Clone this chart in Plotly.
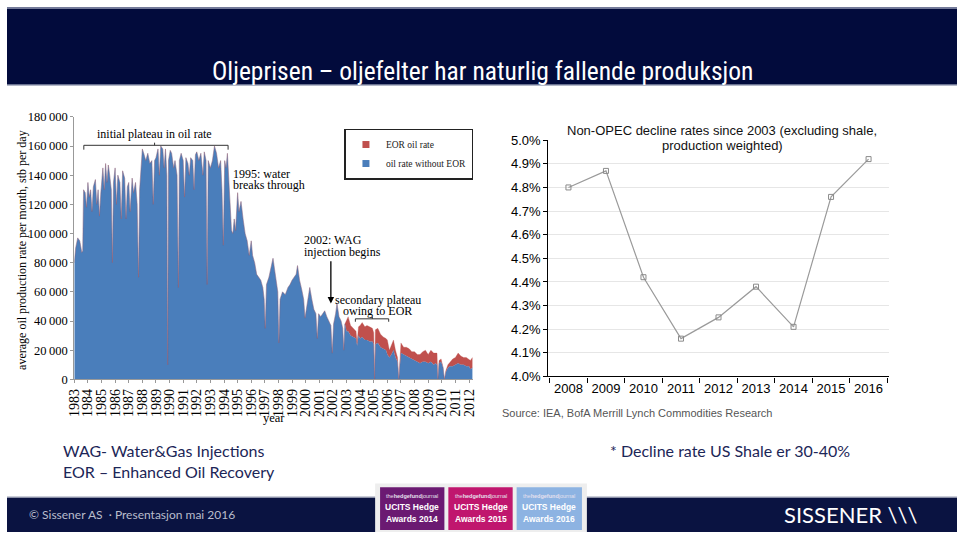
import plotly.graph_objects as go

# ---------------- data: left chart (monthly oil rate, stb/day) ----------------
years = [
    1983.00, 1983.10, 1983.25, 1983.40, 1983.55, 1983.62, 1983.68, 1983.80, 1983.90,
    1984.00, 1984.10, 1984.20, 1984.30, 1984.40, 1984.55, 1984.65, 1984.75, 1984.85, 1984.95,
    1985.10, 1985.20, 1985.30, 1985.40, 1985.50, 1985.60, 1985.72, 1985.80, 1985.88,
    1986.00, 1986.10, 1986.20, 1986.35, 1986.45, 1986.55, 1986.70, 1986.80, 1986.90,
    1987.00, 1987.10, 1987.25, 1987.35, 1987.50, 1987.62, 1987.72, 1987.80,
    1988.00, 1988.10, 1988.25, 1988.40, 1988.55, 1988.70, 1988.80, 1988.90,
    1989.00, 1989.15, 1989.25, 1989.35, 1989.50, 1989.60, 1989.70, 1989.80, 1989.86, 1989.92,
    1990.05, 1990.15, 1990.30, 1990.40, 1990.55, 1990.65, 1990.72, 1990.85,
    1991.00, 1991.10, 1991.20, 1991.35, 1991.45, 1991.55, 1991.70, 1991.80, 1991.90,
    1992.00, 1992.15, 1992.30, 1992.45, 1992.55, 1992.68, 1992.76, 1992.84,
    1993.00, 1993.15, 1993.30, 1993.45, 1993.60, 1993.75, 1993.85, 1993.95,
    1994.05, 1994.15, 1994.25, 1994.35, 1994.45, 1994.55, 1994.65, 1994.75, 1994.85,
    1995.00, 1995.10, 1995.25, 1995.40, 1995.55, 1995.70, 1995.85,
    1996.00, 1996.10, 1996.25, 1996.40, 1996.55, 1996.70, 1996.85, 1996.95,
    1997.03, 1997.12, 1997.30, 1997.50, 1997.60, 1997.72, 1997.85, 1997.95,
    1998.03, 1998.12, 1998.30, 1998.50, 1998.70, 1998.85,
    1999.00, 1999.15, 1999.30, 1999.40, 1999.55, 1999.70, 1999.85, 1999.95,
    2000.10, 2000.30, 2000.45, 2000.60, 2000.75, 2000.85, 2000.95,
    2001.10, 2001.25, 2001.40, 2001.55, 2001.70, 2001.85, 2001.95,
    2002.05, 2002.20, 2002.30, 2002.45, 2002.60, 2002.72, 2002.80, 2002.88,
    2003.00, 2003.12, 2003.30, 2003.50, 2003.70, 2003.78, 2003.88,
    2004.00, 2004.15, 2004.35, 2004.50, 2004.70, 2004.90,
    2005.00, 2005.06, 2005.12, 2005.30, 2005.50, 2005.70, 2005.90,
    2006.00, 2006.15, 2006.30, 2006.45, 2006.60, 2006.75, 2006.84, 2006.92,
    2007.00, 2007.20, 2007.40, 2007.60, 2007.80,
    2008.00, 2008.20, 2008.40, 2008.60, 2008.80,
    2009.00, 2009.20, 2009.40, 2009.55, 2009.65, 2009.71, 2009.80, 2009.95,
    2010.10, 2010.19, 2010.30, 2010.45, 2010.60, 2010.80,
    2011.00, 2011.20, 2011.40, 2011.60, 2011.80,
    2012.00, 2012.10, 2012.25,
]
oil_without_eor = [
    80000, 90000, 97000, 95000, 87000, 88000, 130000, 128000, 118000,
    135000, 125000, 130000, 115000, 132000, 137000, 120000, 130000, 112000, 128000,
    145000, 130000, 148000, 135000, 147000, 140000, 130000, 80000, 135000,
    145000, 120000, 140000, 135000, 110000, 143000, 138000, 110000, 132000,
    135000, 115000, 138000, 128000, 135000, 120000, 70000, 130000,
    158000, 155000, 150000, 155000, 148000, 150000, 120000, 150000,
    152000, 158000, 140000, 160000, 158000, 145000, 158000, 140000, 10000, 150000,
    157000, 155000, 145000, 150000, 140000, 63000, 150000, 155000,
    150000, 125000, 152000, 148000, 140000, 152000, 150000, 130000, 154000,
    156000, 150000, 155000, 140000, 156000, 150000, 65000, 150000,
    145000, 150000, 160000, 155000, 145000, 150000, 130000, 92000,
    150000, 145000, 155000, 140000, 120000, 102000, 100000, 110000, 102000,
    128000, 115000, 122000, 110000, 100000, 95000, 85000,
    95000, 85000, 80000, 72000, 70000, 68000, 63000, 55000,
    35000, 65000, 70000, 78000, 83000, 75000, 65000, 60000,
    25000, 55000, 60000, 58000, 63000, 65000,
    68000, 70000, 72000, 78000, 68000, 62000, 55000, 42000,
    50000, 63000, 55000, 48000, 45000, 28000, 45000,
    43000, 45000, 47000, 43000, 40000, 37000, 18000,
    38000, 45000, 52000, 43000, 40000, 35000, 20000, 38000,
    33000, 33000, 30000, 29000, 28000, 23000, 30000,
    28000, 29000, 27000, 27000, 26000, 26000,
    24000, 0, 24000, 25000, 22000, 21000, 20000,
    17000, 15000, 17000, 20000, 15000, 12000, 0, 13000,
    18000, 17000, 16000, 15000, 14000,
    13000, 12000, 11000, 12000, 12000,
    11000, 12000, 10000, 11000, 10000, 0, 11000, 12000,
    8000, 0, 5000, 8000, 9000, 9000,
    10000, 11000, 10000, 10000, 9000,
    9000, 7000, 8000,
]
eor_years = [
    2003.00, 2003.12, 2003.30, 2003.50, 2003.70, 2003.78, 2003.88,
    2004.00, 2004.15, 2004.35, 2004.50, 2004.70, 2004.90,
    2005.00, 2005.06, 2005.12, 2005.30, 2005.50, 2005.70, 2005.90,
    2006.00, 2006.15, 2006.30, 2006.45, 2006.60, 2006.75, 2006.84, 2006.92,
    2007.00, 2007.20, 2007.40, 2007.60, 2007.80,
    2008.00, 2008.20, 2008.40, 2008.60, 2008.80,
    2009.00, 2009.20, 2009.40, 2009.55, 2009.65, 2009.71, 2009.80, 2009.95,
    2010.10, 2010.19, 2010.30, 2010.45, 2010.60, 2010.80,
    2011.00, 2011.20, 2011.40, 2011.60, 2011.80,
    2012.00, 2012.10, 2012.25,
]
eor_oil = [
    8000, 10000, 7000, 6000, 5000, 2000, 6000,
    9000, 10000, 9000, 10000, 10000, 9000,
    8000, 0, 10000, 10000, 9000, 8000, 8000,
    10000, 5000, 6000, 7000, 5000, 3000, 0, 2000,
    7000, 5000, 6000, 6000, 5000,
    6000, 5000, 6000, 7000, 8000,
    6000, 8000, 8000, 7000, 8000, 0, 2000, 2000,
    0, 0, 1000, 2000, 3000, 5000,
    5000, 7000, 6000, 5000, 6000,
    5000, 6000, 7000,
]
year_ticks = list(range(1983, 2013))
rate_ticks = [0, 20000, 40000, 60000, 80000, 100000, 120000, 140000, 160000, 180000]

# ---------------- data: right chart ----------------
decline_years = ["2008", "2009", "2010", "2011", "2012", "2013", "2014", "2015", "2016"]
decline_rate = [4.80, 4.87, 4.42, 4.16, 4.25, 4.38, 4.21, 4.76, 4.92]
pct_ticks = [4.0, 4.1, 4.2, 4.3, 4.4, 4.5, 4.6, 4.7, 4.8, 4.9, 5.0]

# ---------------- build ----------------
W, H = 960, 540
def px(x):
    return x / W
def py(y):
    return 1 - y / H

BLUE = "#4a7ebb"
RED = "#c0504d"
SERIF = "Liberation Serif, Times New Roman, serif"
SANS = "Liberation Sans, Arial, sans-serif"
CAL = "Lato, Open Sans, sans-serif"

eor_map = dict(zip(eor_years, eor_oil))
eor_full = [eor_map.get(t, 0) for t in years]

fig = go.Figure()
fig.add_trace(go.Scatter(x=years, y=oil_without_eor, stackgroup="oil", mode="lines",
                         line=dict(width=0.3, color=BLUE), fillcolor=BLUE,
                         showlegend=False, xaxis="x", yaxis="y"))
fig.add_trace(go.Scatter(x=years, y=eor_full, stackgroup="oil", mode="lines",
                         line=dict(width=0.3, color=RED), fillcolor=RED,
                         showlegend=False, xaxis="x", yaxis="y"))
# legend entries
fig.add_trace(go.Scatter(x=[None], y=[None], mode="markers", name="EOR oil rate",
                         marker=dict(symbol="square", size=7, color=RED), xaxis="x", yaxis="y"))
fig.add_trace(go.Scatter(x=[None], y=[None], mode="markers", name="oil rate without EOR",
                         marker=dict(symbol="square", size=7, color=BLUE), xaxis="x", yaxis="y"))

fig.add_trace(go.Scatter(x=decline_years, y=decline_rate, mode="lines+markers",
                         line=dict(color="#9a9a9a", width=1.2),
                         marker=dict(symbol="square-open", size=5, color="#8a8a8a",
                                     line=dict(width=1, color="#8a8a8a")),
                         showlegend=False, xaxis="x2", yaxis="y2"))

shapes = []
# header band
shapes.append(dict(type="rect", xref="paper", yref="paper", x0=0, x1=1, y0=py(80), y1=1,
                   fillcolor="#020b3c", line=dict(width=0), layer="below"))
shapes.append(dict(type="line", xref="paper", yref="paper", x0=0, x1=1, y0=py(80), y1=py(80),
                   line=dict(color="#6a7291", width=1.5)))
shapes.append(dict(type="line", xref="paper", yref="paper", x0=0, x1=1, y0=py(1), y1=py(1),
                   line=dict(color="#9aa0b8", width=1.5)))
# footer band
shapes.append(dict(type="rect", xref="paper", yref="paper", x0=0, x1=1, y0=0, y1=py(504),
                   fillcolor="#0a1341", line=dict(width=0), layer="below"))
shapes.append(dict(type="line", xref="paper", yref="paper", x0=0, x1=1, y0=py(504), y1=py(504),
                   line=dict(color="#b8bccb", width=1.5)))
# badges
shapes.append(dict(type="rect", xref="paper", yref="paper", x0=px(372), x1=px(586), y0=0, y1=py(490),
                   fillcolor="#eeeeee", line=dict(width=0)))
badge_cols = ["#6b1a72", "#c0166e", "#8db3e2"]
badge_x = [(377, 442), (446, 511), (515, 581)]
for (a, b), c in zip(badge_x, badge_cols):
    shapes.append(dict(type="rect", xref="paper", yref="paper", x0=px(a), x1=px(b),
                       y0=py(538), y1=py(494), fillcolor=c, line=dict(width=0)))

# left chart brackets
def bracket(x0, x1, xm, y, d):
    return [
        dict(type="line", xref="x", yref="y", x0=x0, x1=x1, y0=y, y1=y, line=dict(color="#333", width=1)),
        dict(type="line", xref="x", yref="y", x0=x0, x1=x0, y0=y, y1=y - d, line=dict(color="#333", width=1)),
        dict(type="line", xref="x", yref="y", x0=x1, x1=x1, y0=y, y1=y - d, line=dict(color="#333", width=1)),
        dict(type="line", xref="x", yref="y", x0=xm, x1=xm, y0=y, y1=y + d * 0.6, line=dict(color="#333", width=1)),
    ]
shapes += bracket(1983.7, 1994.3, 1988.9, 160500, 3000)
shapes += bracket(2003.65, 2006.1, 2004.9, 41500, 2000)

ann = []
def text(x, y, s, size, color="black", family=SERIF, xanchor="center", xref="paper", yref="paper", **kw):
    ann.append(dict(x=x, y=y, xref=xref, yref=yref, text=s, showarrow=False,
                    font=dict(size=size, color=color, family=family), xanchor=xanchor,
                    yanchor="middle", **kw))

# header title
text(0.5, py(66), "Oljeprisen – oljefelter har naturlig fallende produksjon", 25.5, "white",
     "Liberation Sans Narrow, Arial Narrow, Roboto Condensed, sans-serif")
# left chart annotations
text(1988.9, 168500, "initial plateau in oil rate", 12, xref="x", yref="y")
text(1994.5, 141000, "1995: water", 12, xanchor="left", xref="x", yref="y")
text(1994.5, 133000, "breaks through", 12, xanchor="left", xref="x", yref="y")
text(1999.7, 95500, "2002: WAG", 12, xanchor="left", xref="x", yref="y")
text(1999.7, 87500, "injection begins", 12, xanchor="left", xref="x", yref="y")
text(2005.3, 54600, "secondary plateau", 12, xref="x", yref="y")
text(2005.3, 46600, "owing to EOR", 12, xref="x", yref="y")
ann.append(dict(x=2001.85, y=52000, ax=2001.85, ay=82000, xref="x", yref="y", axref="x", ayref="y",
                showarrow=True, arrowhead=2, arrowsize=1, arrowwidth=1.3, arrowcolor="black", text=""))
text(px(15), py(250), "average oil production rate per month, stb per day", 12, textangle=-90)
text(px(270), py(423), "year", 12.5)
# right chart title + source
text(px(723), py(127), "Non-OPEC decline rates since 2003 (excluding shale,", 13, "#111", SANS)
text(px(723), py(142), "production weighted)", 13, "#111", SANS)
text(px(498), py(418), "Source: IEA, BofA Merrill Lynch Commodities Research", 11, "#555",
     "Liberation Sans Narrow, Arial Narrow, sans-serif", xanchor="left")
# bottom notes
NAVY = "#1c2657"
text(px(55), py(456), "WAG- Water&Gas Injections", 16, NAVY, CAL, xanchor="left")
text(px(55), py(478), "EOR – Enhanced Oil Recovery", 16, NAVY, CAL, xanchor="left")
text(px(607), py(456), "* Decline rate US Shale er 30-40%", 16, NAVY, CAL, xanchor="left")
# footer
text(px(20), py(522), "© Sissener AS  · Presentasjon mai 2016", 12, "#b9bdcc", CAL, xanchor="left")
text(px(922), py(522), "SISSENER \\\\\\", 22, "white", CAL, xanchor="right")
award_years = ["2014", "2015", "2016"]
for (a, b), yr in zip(badge_x, award_years):
    cx = px((a + b) / 2)
    text(cx, py(503), "the<b>hedgefund</b>journal", 5.5, "#e6e0ee", SANS)
    text(cx, py(514), "<b>UCITS Hedge</b>", 8.5, "white", SANS)
    text(cx, py(527), f"<b>Awards {yr}</b>", 8.5, "white", SANS)

fig.update_layout(
    width=W, height=H, autosize=False, margin=dict(l=0, r=0, t=0, b=0, pad=0),
    paper_bgcolor="white", plot_bgcolor="white",
    shapes=shapes, annotations=ann,
    showlegend=True,
    legend=dict(x=px(341), y=py(125), xanchor="left", yanchor="top", traceorder="normal",
                bgcolor="white", bordercolor="#222", borderwidth=1.5,
                font=dict(family=SERIF, size=9.5, color="#222"),
                itemwidth=30, tracegroupgap=0),
    xaxis=dict(domain=[px(68), px(471)], range=[1983, 2012.3], tickvals=year_ticks,
               ticktext=[str(y) for y in year_ticks], tickangle=-90,
               tickfont=dict(family=SERIF, size=14, color="black"),
               showline=True, linecolor="#999", linewidth=1, ticks="outside", ticklen=3,
               tickcolor="#999", showgrid=False, zeroline=False, anchor="y"),
    yaxis=dict(domain=[py(383), py(113)], range=[0, 180000], tickvals=rate_ticks,
               ticktext=[f"{v:,}".replace(",", "\u2009") for v in rate_ticks],
               tickfont=dict(family=SERIF, size=12.5, color="black"),
               showline=True, linecolor="#999", linewidth=1, ticks="outside", ticklen=3,
               tickcolor="#999", showgrid=False, zeroline=False, anchor="x"),
    xaxis2=dict(domain=[px(547), px(891)], type="category", categoryorder="array",
                categoryarray=decline_years, tickangle=0,
                tickfont=dict(family=SANS, size=13, color="black"),
                showline=True, linecolor="black", linewidth=1.2, ticks="outside",
                tickson="boundaries", ticklen=5, tickcolor="black", showgrid=False,
                zeroline=False, anchor="y2"),
    yaxis2=dict(domain=[py(380), py(137)], range=[4.0, 5.0], tickvals=pct_ticks,
                ticktext=[f"{v:.1f}%" for v in pct_ticks],
                tickfont=dict(family=SANS, size=13, color="black"),
                showline=True, linecolor="black", linewidth=1.2, ticks="outside", ticklen=4,
                tickcolor="black", showgrid=True, gridcolor="#e6e6e6", gridwidth=1,
                zeroline=False, anchor="x2"),
)

page_fix = (
    "document.documentElement.style.margin='0';"
    "document.documentElement.style.padding='0';"
    "document.documentElement.style.overflow='hidden';"
    "document.body.style.margin='0';document.body.style.padding='0';"
    "document.body.style.overflow='hidden';"
)
fig.write_html("out.html", config={"displayModeBar": False, "responsive": False},
               post_script=page_fix)
